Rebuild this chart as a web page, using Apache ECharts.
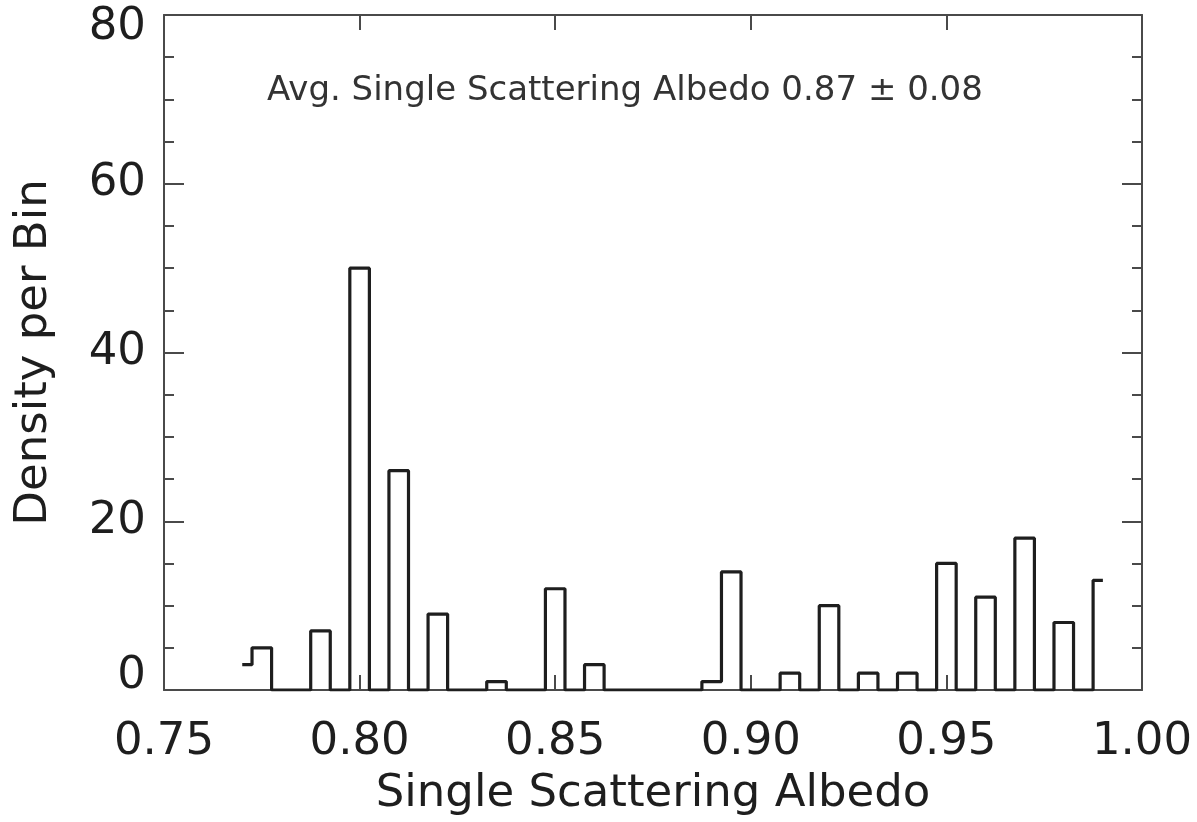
<!DOCTYPE html>
<html>
<head>
<meta charset="utf-8">
<script src="https://cdn.jsdelivr.net/npm/echarts@6/dist/echarts.min.js"></script>
<style>
html,body{margin:0;padding:0;background:#fff;}
#chart{width:1197px;height:822px;}
</style>
</head>
<body>
<div id="chart"></div>
<script>
// Bin centers (single scattering albedo) and histogram counts
const binCenters = [
  0.770, 0.775, 0.780, 0.785, 0.790, 0.795, 0.800, 0.805, 0.810, 0.815,
  0.820, 0.825, 0.830, 0.835, 0.840, 0.845, 0.850, 0.855, 0.860, 0.865,
  0.870, 0.875, 0.880, 0.885, 0.890, 0.895, 0.900, 0.905, 0.910, 0.915,
  0.920, 0.925, 0.930, 0.935, 0.940, 0.945, 0.950, 0.955, 0.960, 0.965,
  0.970, 0.975, 0.980, 0.985, 0.990
];
const binCounts = [
  3, 5, 0, 0, 7, 0, 50, 0, 26, 0,
  9, 0, 0, 1, 0, 0, 12, 0, 3, 0,
  0, 0, 0, 0, 1, 14, 0, 0, 2, 0,
  10, 0, 2, 0, 2, 0, 15, 0, 11, 0,
  18, 0, 8, 0, 13
];
const xTickValues = [0.75, 0.80, 0.85, 0.90, 0.95, 1.00];
const yTickValues = [0, 20, 40, 60, 80];
const xTitle = 'Single Scattering Albedo';
const yTitle = 'Density per Bin';
const annotation = 'Avg. Single Scattering Albedo 0.87 \u00b1 0.08';

const FONT = 'DejaVu Sans';
const axisColor = '#4a4a4a';
const inkColor = '#1e1e1e';

const seriesData = binCenters.map((c, i) => [c, binCounts[i]]);
const yMin = yTickValues[0];
const yMax = yTickValues[yTickValues.length - 1];

const chart = echarts.init(document.getElementById('chart'), null, {renderer: 'canvas'});
const baseX = {
  type: 'value',
  min: xTickValues[0],
  max: xTickValues[xTickValues.length - 1],
  interval: 0.05,
  splitLine: {show: false},
  axisLine: {show: true, onZero: false, lineStyle: {color: axisColor, width: 2}},
  axisTick: {show: true, inside: true, length: 15, lineStyle: {color: axisColor, width: 2}},
};
const baseY = {
  type: 'value',
  min: yMin,
  max: yMax,
  interval: 20,
  splitLine: {show: false},
  axisLine: {show: true, onZero: false, lineStyle: {color: axisColor, width: 2}},
  axisTick: {show: true, inside: true, length: 20, lineStyle: {color: axisColor, width: 2}},
  minorTick: {show: true, splitNumber: 4, length: 10, lineStyle: {color: axisColor, width: 2}},
};
const labelStyle = {fontFamily: FONT, fontSize: 45, color: inkColor};
chart.setOption({
  animation: false,
  backgroundColor: '#ffffff',
  grid: {left: 164, right: 55, top: 15, bottom: 128, containLabel: false},
  xAxis: [
    Object.assign({}, baseX, {
      position: 'bottom',
      name: xTitle,
      nameLocation: 'middle',
      nameGap: 82,
      nameTextStyle: labelStyle,
      axisLabel: Object.assign({show: true, margin: 30, formatter: v => v.toFixed(2)}, labelStyle)
    }),
    Object.assign({}, baseX, {position: 'top', axisLabel: {show: false}})
  ],
  yAxis: [
    Object.assign({}, baseY, {
      position: 'left',
      name: yTitle,
      nameLocation: 'middle',
      nameRotate: 90,
      nameGap: 107,
      nameTextStyle: labelStyle,
      axisLabel: Object.assign({
        show: true, margin: 18,
        formatter: v => v === yMin ? '{lo|' + v + '}' : (v === yMax ? '{hi|' + v + '}' : String(v)),
        rich: {
          lo: Object.assign({padding: [0, 0, 28, 0]}, labelStyle),
          hi: Object.assign({padding: [24, 0, 0, 0]}, labelStyle)
        }
      }, labelStyle)
    }),
    Object.assign({}, baseY, {position: 'right', axisLabel: {show: false}})
  ],
  graphic: [{
    type: 'text',
    left: 267,
    top: 74,
    style: {text: annotation, font: '34px "' + FONT + '"', fill: '#333333'}
  }],
  series: [{
    type: 'line',
    step: 'middle',
    xAxisIndex: 0,
    yAxisIndex: 0,
    data: seriesData,
    symbol: 'none',
    lineStyle: {color: inkColor, width: 3.2},
    z: 5
  }]
});
</script>
</body>
</html>
